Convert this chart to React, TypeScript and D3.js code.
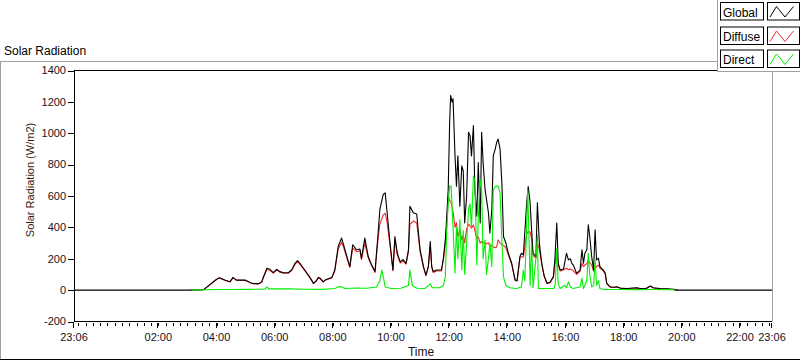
import * as d3 from "d3";

// time span shown on the x axis
const startTime = "2021-06-01T23:06";
const endTime = "2021-06-02T23:06";
const dayPrefix = "2021-06-02T";

const yTicks = [-200, 0, 200, 400, 600, 800, 1000, 1200, 1400];
const majorHours = ["02:00", "04:00", "06:00", "08:00", "10:00", "12:00", "14:00", "16:00", "18:00", "20:00", "22:00"];

const legendNames = ["Global", "Diffuse", "Direct"];
const colors = ["#000000", "#f52a2a", "#00f000"];

// [time, W/m2]
const globalSeries: [string, number][] = [
	[startTime, 0], ["03:05", 0], ["03:33", 2], ["03:47", 37], ["04:00", 69], ["04:06", 79], ["04:17", 64], ["04:28", 53],
	["04:34", 81], ["04:41", 64], ["04:59", 64], ["05:02", 60], ["05:13", 43], ["05:26", 40], ["05:33", 51], ["05:37", 86],
	["05:44", 139], ["05:50", 133], ["05:57", 111], ["06:04", 133], ["06:11", 118], ["06:18", 111], ["06:28", 111], ["06:35", 128],
	["06:42", 171], ["06:47", 188], ["06:52", 171], ["07:02", 128], ["07:13", 80], ["07:20", 43], ["07:26", 60], ["07:30", 81],
	["07:34", 75], ["07:40", 53], ["07:44", 64], ["07:48", 70], ["07:58", 81], ["08:04", 128], ["08:11", 278], ["08:18", 332],
	["08:22", 290], ["08:29", 214], ["08:35", 150], ["08:41", 289], ["08:49", 257], ["08:56", 262], ["08:59", 203], ["09:06", 332],
	["09:13", 214], ["09:20", 161], ["09:27", 118], ["09:32", 310], ["09:37", 514], ["09:44", 610], ["09:48", 620], ["09:52", 493],
	["09:58", 300], ["10:04", 128], ["10:08", 342], ["10:13", 235], ["10:19", 180], ["10:25", 195], ["10:31", 171], ["10:36", 257],
	["10:39", 535], ["10:46", 493], ["10:53", 485], ["11:00", 257], ["11:07", 150], ["11:12", 96], ["11:17", 150], ["11:21", 310],
	["11:24", 150], ["11:27", 118], ["11:34", 128], ["11:44", 128], ["11:48", 203], ["11:52", 321], ["11:55", 471], ["11:58", 642],
	["12:01", 1070], ["12:03", 1241], ["12:06", 1199], ["12:08", 1220], ["12:12", 856], ["12:15", 663], ["12:18", 856], ["12:22", 535],
	["12:26", 792], ["12:29", 760], ["12:32", 428], ["12:36", 600], ["12:40", 1006], ["12:43", 985], ["12:46", 856], ["12:50", 1049],
	["12:53", 642], ["12:57", 471], ["13:00", 814], ["13:04", 428], ["13:07", 1006], ["13:10", 814], ["13:14", 642], ["13:17", 578],
	["13:21", 493], ["13:24", 364], ["13:28", 514], ["13:31", 856], ["13:35", 899], ["13:38", 942], ["13:41", 963], ["13:45", 899],
	["13:49", 663], ["13:52", 342], ["13:57", 300], ["14:02", 235], ["14:09", 171], ["14:16", 64], ["14:20", 60], ["14:26", 214],
	["14:29", 235], ["14:33", 225], ["14:40", 557], ["14:43", 660], ["14:47", 557], ["14:50", 385], ["14:53", 235], ["14:59", 214],
	["15:02", 557], ["15:06", 300], ["15:11", 171], ["15:16", 90], ["15:22", 43], ["15:28", 50], ["15:35", 86], ["15:38", 193],
	["15:42", 428], ["15:45", 171], ["15:49", 128], ["15:56", 135], ["16:02", 235], ["16:06", 193], ["16:10", 200], ["16:13", 171],
	["16:16", 160], ["16:23", 107], ["16:30", 128], ["16:34", 257], ["16:37", 171], ["16:40", 235], ["16:44", 257], ["16:47", 417],
	["16:50", 342], ["16:54", 214], ["16:58", 128], ["17:01", 385], ["17:04", 193], ["17:08", 203], ["17:11", 150], ["17:18", 128],
	["17:22", 107], ["17:25", 43], ["17:32", 21], ["17:39", 18], ["17:46", 21], ["17:53", 13], ["18:06", 10], ["18:27", 15],
	["18:34", 10], ["18:47", 12], ["18:55", 26], ["19:01", 15], ["19:15", 10], ["19:29", 8], ["19:43", 5], ["19:49", 0], [endTime, 0]
];

const diffuseSeries: [string, number][] = [
	["03:05", 0], ["03:33", 2], ["03:47", 36], ["04:00", 67], ["04:06", 77], ["04:17", 63], ["04:28", 52], ["04:34", 78],
	["04:41", 63], ["04:59", 62], ["05:02", 58], ["05:13", 42], ["05:26", 39], ["05:33", 50], ["05:37", 82], ["05:44", 132],
	["05:50", 128], ["05:57", 108], ["06:04", 128], ["06:11", 114], ["06:18", 108], ["06:28", 108], ["06:35", 124], ["06:42", 165],
	["06:47", 180], ["06:52", 165], ["07:02", 124], ["07:13", 78], ["07:20", 42], ["07:26", 58], ["07:30", 78], ["07:34", 72],
	["07:40", 52], ["07:44", 62], ["07:48", 68], ["07:58", 78], ["08:04", 122], ["08:11", 260], ["08:18", 305], ["08:22", 275],
	["08:29", 205], ["08:35", 145], ["08:41", 270], ["08:49", 245], ["08:56", 250], ["08:59", 195], ["09:06", 300], ["09:13", 205],
	["09:20", 155], ["09:27", 112], ["09:32", 290], ["09:37", 420], ["09:44", 480], ["09:48", 490], ["09:52", 430], ["09:58", 285],
	["10:04", 122], ["10:08", 320], ["10:13", 225], ["10:19", 172], ["10:25", 185], ["10:31", 165], ["10:36", 245], ["10:39", 420],
	["10:46", 440], ["10:53", 430], ["11:00", 245], ["11:07", 145], ["11:12", 92], ["11:17", 145], ["11:21", 280], ["11:24", 145],
	["11:27", 112], ["11:34", 122], ["11:44", 122], ["11:48", 190], ["11:52", 290], ["11:55", 407], ["11:58", 599], ["12:01", 570],
	["12:04", 560], ["12:08", 500], ["12:12", 400], ["12:15", 430], ["12:18", 340], ["12:22", 380], ["12:26", 320], ["12:29", 350],
	["12:32", 300], ["12:36", 390], ["12:40", 420], ["12:43", 410], ["12:46", 395], ["12:50", 415], ["12:53", 380], ["12:57", 330],
	["13:00", 340], ["13:04", 300], ["13:07", 310], ["13:10", 300], ["13:14", 305], ["13:17", 295], ["13:21", 300], ["13:24", 280],
	["13:28", 285], ["13:31", 275], ["13:35", 270], ["13:38", 275], ["13:41", 320], ["13:45", 300], ["13:49", 290], ["13:52", 285],
	["13:57", 270], ["14:02", 225], ["14:09", 165], ["14:16", 62], ["14:20", 58], ["14:26", 205], ["14:29", 215], ["14:33", 210],
	["14:40", 360], ["14:43", 373], ["14:47", 370], ["14:50", 330], ["14:53", 220], ["14:59", 205], ["15:02", 300], ["15:06", 260],
	["15:11", 165], ["15:16", 88], ["15:22", 42], ["15:28", 48], ["15:35", 82], ["15:38", 160], ["15:42", 250], ["15:45", 160],
	["15:49", 122], ["15:56", 130], ["16:02", 140], ["16:06", 130], ["16:10", 135], ["16:13", 130], ["16:16", 125], ["16:23", 100],
	["16:30", 120], ["16:34", 170], ["16:37", 150], ["16:40", 160], ["16:44", 170], ["16:47", 190], ["16:50", 175], ["16:54", 160],
	["16:58", 120], ["17:01", 140], ["17:04", 150], ["17:08", 160], ["17:11", 140], ["17:18", 122], ["17:22", 102], ["17:25", 42],
	["17:32", 20], ["17:39", 17], ["17:46", 20], ["17:53", 12], ["18:06", 9], ["18:27", 14], ["18:34", 9], ["18:47", 11],
	["18:55", 24], ["19:01", 14], ["19:15", 9], ["19:29", 7], ["19:43", 4], ["19:52", 0]
];

const directSeries: [string, number][] = [
	["03:08", 0], ["03:40", 2], ["04:00", 4], ["04:30", 4], ["05:00", 5], ["05:40", 6], ["05:44", 21], ["05:48", 8],
	["06:30", 8], ["07:00", 6], ["07:40", 5], ["08:05", 10], ["08:11", 21], ["08:18", 21], ["08:25", 10], ["08:50", 14],
	["09:10", 12], ["09:30", 20], ["09:37", 60], ["09:41", 128], ["09:44", 86], ["09:48", 20], ["10:00", 10], ["10:20", 12],
	["10:36", 30], ["10:39", 128], ["10:44", 30], ["10:53", 12], ["11:10", 10], ["11:21", 40], ["11:25", 15], ["11:40", 15],
	["11:48", 30], ["11:52", 86], ["11:55", 385], ["11:58", 550], ["12:01", 663], ["12:04", 663], ["12:08", 400], ["12:12", 110],
	["12:15", 400], ["12:18", 200], ["12:22", 450], ["12:26", 130], ["12:29", 380], ["12:32", 100], ["12:36", 300], ["12:40", 520],
	["12:43", 550], ["12:46", 400], ["12:50", 728], ["12:53", 700], ["12:57", 160], ["13:00", 450], ["13:04", 706], ["13:07", 640],
	["13:10", 200], ["13:14", 320], ["13:17", 100], ["13:21", 200], ["13:24", 300], ["13:28", 150], ["13:31", 640], ["13:35", 660],
	["13:38", 663], ["13:41", 663], ["13:45", 620], ["13:49", 300], ["13:52", 86], ["13:57", 30], ["14:05", 15], ["14:19", 10],
	["14:29", 20], ["14:33", 128], ["14:36", 60], ["14:39", 320], ["14:42", 640], ["14:45", 300], ["14:47", 30], ["14:50", 300],
	["14:53", 15], ["15:00", 240], ["15:02", 350], ["15:04", 10], ["15:14", 10], ["15:36", 10], ["15:39", 40], ["15:42", 265],
	["15:45", 40], ["15:49", 10], ["15:58", 30], ["16:02", 15], ["16:06", 53], ["16:10", 20], ["16:16", 10], ["16:30", 20],
	["16:34", 75], ["16:37", 10], ["16:44", 60], ["16:47", 235], ["16:50", 100], ["16:54", 20], ["16:58", 30], ["17:01", 193],
	["17:04", 30], ["17:08", 60], ["17:11", 10], ["17:20", 5], ["17:40", 4], ["18:30", 3], ["19:00", 4], ["19:40", 3], ["19:45", 0]
];

const parseT = (s: string) => new Date(s.includes("T") ? s : dayPrefix + s);

const W = 800;
const H = 361;
const plot = { left: 74, right: 772, top: 70.5, bottom: 321.5 };
const font = "'Liberation Sans', Arial, sans-serif";

export default function App() {
	const x = d3.scaleTime().domain([parseT(startTime), parseT(endTime)]).range([plot.left, plot.right]);
	const y = d3.scaleLinear().domain([-200, 1400]).range([plot.bottom, plot.top]);

	const line = d3
		.line<[string, number]>()
		.x(d => x(parseT(d[0])))
		.y(d => y(d[1]));

	const minorTicks = d3.timeMinute.every(15)!.range(parseT(startTime), parseT(endTime));
	const majorTicks = [startTime, ...majorHours, endTime].map(parseT);
	const fmt = d3.timeFormat("%H:%M");
	const series = [globalSeries, diffuseSeries, directSeries];
	const drawOrder = [1, 0, 2];

	const tickY = plot.bottom + 1.5;

	return (
		<svg width={W} height={H} style={{ position: "absolute", left: 0, top: 0, background: "#fff" }} fontFamily={font}>
			<rect x={0} y={0} width={W} height={H} fill="#fff" />
			{/* panel frame */}
			<line x1={0.5} x2={0.5} y1={61.5} y2={360} stroke="#a0a0a0" />
			<line x1={0} x2={718} y1={61.5} y2={61.5} stroke="#a0a0a0" />
			<line x1={0} x2={W} y1={359.5} y2={359.5} stroke="#000" />
			<text x={4} y={55} fontSize={12} fill="#000">Solar Radiation</text>

			{/* plot frame */}
			<line x1={plot.left} x2={plot.right} y1={plot.top} y2={plot.top} stroke="#000" />
			<line x1={plot.right + 0.5} x2={plot.right + 0.5} y1={plot.top} y2={plot.bottom} stroke="#a0a0a0" />
			<line x1={plot.left} x2={plot.right} y1={plot.bottom} y2={plot.bottom} stroke="#000" />
			<line x1={plot.left + 0.5} x2={plot.left + 0.5} y1={plot.top} y2={plot.bottom} stroke="#000" />

			{/* y axis */}
			{yTicks.map(t => (
				<g key={t}>
					<line x1={plot.left - 6} x2={plot.left} y1={Math.round(y(t)) + 0.5} y2={Math.round(y(t)) + 0.5} stroke="#000" />
					<text x={plot.left - 8} y={y(t)} dy="0.35em" textAnchor="end" fontSize={11} fill="#1a1020">{t}</text>
				</g>
			))}
			<text transform="translate(34,180) rotate(-90)" textAnchor="middle" fontSize={11} fill="#3a1c0c">Solar Radiation (W/m2)</text>

			{/* x axis */}
			{minorTicks.map((t, i) => (
				<line key={"m" + i} x1={Math.round(x(t)) + 0.5} x2={Math.round(x(t)) + 0.5} y1={tickY} y2={tickY + 3} stroke="#000" />
			))}
			{majorTicks.map((t, i) => (
				<g key={"M" + i}>
					<line x1={Math.round(x(t)) - 0.5} x2={Math.round(x(t)) - 0.5} y1={tickY} y2={tickY + 5} stroke="#000" />
					<text x={x(t)} y={341} textAnchor="middle" fontSize={11} fill="#1a1020">{fmt(t)}</text>
				</g>
			))}
			<text x={421} y={355.5} textAnchor="middle" fontSize={12} fill="#1a1020">Time</text>

			{/* series */}
			<g fill="none" strokeWidth={1.1} strokeLinejoin="round">
				{drawOrder.map(i => (
					<path key={i} d={line(series[i]) ?? ""} stroke={colors[i]} />
				))}
			</g>

			{/* legend */}
			<rect x={717} y={0} width={83} height={71.5} fill="#fff" />
			<line x1={717.5} x2={717.5} y1={0} y2={72} stroke="#a0a0a0" />
			<line x1={717} x2={W} y1={71.5} y2={71.5} stroke="#a0a0a0" />
			{legendNames.map((name, i) => {
				const top = [2.5, 27, 50][i];
				return (
					<g key={name}>
						<rect x={720.5} y={top} width={43} height={17.5} fill="#fff" stroke="#000" />
						<text x={723} y={top + 14} fontSize={12} fill="#000">{name}</text>
						<rect x={767.5} y={top} width={32} height={17.5} fill="#fff" stroke="#000" />
						<polyline
							points={`770,${top + 14.5} 776.5,${top + 4} 785,${top + 14.5} 793.5,${top + 4}`}
							fill="none"
							stroke={colors[i]}
						/>
					</g>
				);
			})}
		</svg>
	);
}
